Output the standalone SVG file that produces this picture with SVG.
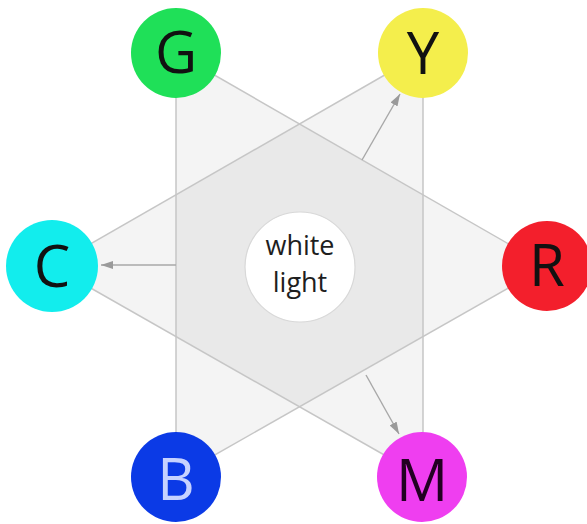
<svg xmlns="http://www.w3.org/2000/svg" width="587" height="524" viewBox="0 0 587 524">
  <style>
    .tri { fill: #000000; fill-opacity: 0.045; stroke: none; }
    .edge { stroke: #c6c6c6; stroke-width: 1.5; fill: none; }
    .arrow { stroke: #a8a8a8; stroke-width: 1.4; fill: none; marker-end: url(#head); }
    .lbl { font-family: "Open Sans", "Noto Sans", "DejaVu Sans", sans-serif; font-size: 58px; text-anchor: middle; fill: #111111; }
    .wl { font-family: "Open Sans", "Noto Sans", "DejaVu Sans", sans-serif; font-size: 27px; text-anchor: middle; fill: #1e1e1e; }
  </style>
  <defs>
    <marker id="head" viewBox="0 0 12 8" refX="12" refY="4" markerWidth="12" markerHeight="8" markerUnits="userSpaceOnUse" orient="auto">
      <path d="M0,0 L12,4 L0,8 Z" fill="#9a9a9a"/>
    </marker>
  </defs>
  <rect x="0" y="0" width="587" height="524" fill="#ffffff"/>

  <g id="triangles">
    <polygon class="tri" points="176,53 547,266 176,477"/>
    <polygon class="tri" points="423,53 423,477 52,266"/>
  </g>

  <g id="connectors">
    <line class="edge" x1="176" y1="53" x2="176" y2="477"/>
    <line class="edge" x1="176" y1="53" x2="547" y2="266"/>
    <line class="edge" x1="547" y1="266" x2="176" y2="477"/>
    <line class="edge" x1="423" y1="53" x2="423" y2="477"/>
    <line class="edge" x1="423" y1="53" x2="52" y2="266"/>
    <line class="edge" x1="52" y1="266" x2="423" y2="477"/>
    <line class="arrow" x1="362" y1="160" x2="400" y2="94"/>
    <line class="arrow" x1="366" y1="375" x2="399" y2="434"/>
    <line class="arrow" x1="176" y1="265" x2="101" y2="265"/>
  </g>

  <g id="white-light">
    <circle cx="300" cy="267" r="55" fill="#ffffff" stroke="#d8d8d8" stroke-width="1.2"/>
    <text class="wl" x="300" y="255">white</text>
    <text class="wl" x="300" y="292">light</text>
  </g>

  <g id="node-G">
    <circle cx="176" cy="53" r="45" fill="#1fe058"/>
    <text class="lbl" x="176" y="73">G</text>
  </g>
  <g id="node-Y">
    <circle cx="423" cy="53" r="45" fill="#f4ee4c"/>
    <text class="lbl" x="423" y="74">Y</text>
  </g>
  <g id="node-C">
    <circle cx="52" cy="266" r="46" fill="#12eded"/>
    <text class="lbl" x="52" y="287">C</text>
  </g>
  <g id="node-R">
    <circle cx="547" cy="266" r="45" fill="#f31f2c"/>
    <text class="lbl" x="547" y="286">R</text>
  </g>
  <g id="node-B">
    <circle cx="176" cy="477" r="45" fill="#0b3ae6"/>
    <text class="lbl" x="176" y="500" style="fill:#c6d2ff">B</text>
  </g>
  <g id="node-M">
    <circle cx="422" cy="477" r="45" fill="#ef3ef0"/>
    <text class="lbl" x="422" y="501" style="fill:#220022">M</text>
  </g>
</svg>
